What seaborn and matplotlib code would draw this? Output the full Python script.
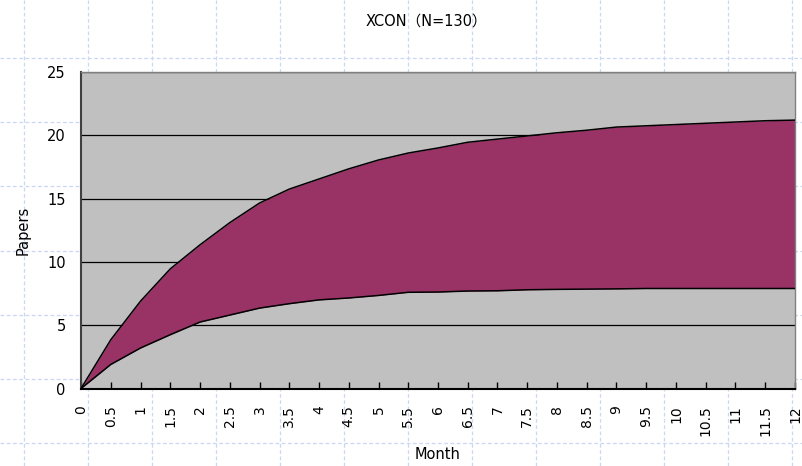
import numpy as np
import pandas as pd
import matplotlib
matplotlib.use("Agg")
import matplotlib.pyplot as plt
import seaborn as sns

# Values
months = [0, 0.5, 1, 1.5, 2, 2.5, 3, 3.5, 4, 4.5, 5, 5.5, 6, 6.5, 7, 7.5,
          8, 8.5, 9, 9.5, 10, 10.5, 11, 11.5, 12]
upper = [0, 3.85, 6.9, 9.45, 11.35, 13.1, 14.65, 15.75, 16.55, 17.35, 18.05,
         18.6, 19.0, 19.45, 19.7, 19.95, 20.2, 20.4, 20.65, 20.75, 20.85,
         20.95, 21.05, 21.15, 21.2]
lower = [0, 1.9, 3.2, 4.25, 5.25, 5.8, 6.35, 6.7, 7.0, 7.15, 7.35, 7.6, 7.62,
         7.7, 7.72, 7.8, 7.83, 7.85, 7.87, 7.9, 7.9, 7.9, 7.9, 7.9, 7.9]
y_ticks = [0, 5, 10, 15, 20, 25]
title = "XCON（N=130）"

df = pd.DataFrame({"Month": months * 2,
                   "Papers": upper + lower,
                   "Bound": ["upper"] * len(months) + ["lower"] * len(months)})

sns.set_theme(style="white")
plt.rcParams['font.family'] = ['DejaVu Sans', 'Noto Sans CJK JP']
plt.rcParams['text.color'] = 'black'
plt.rcParams['axes.labelcolor'] = 'black'
plt.rcParams['xtick.labelcolor'] = 'black'
plt.rcParams['ytick.labelcolor'] = 'black'

fig = plt.figure(figsize=(8.03, 4.66), dpi=100)
fig.patch.set_facecolor('white')

# page background with the light dashed grid
bg = fig.add_axes([0, 0, 1, 1], zorder=-1)
bg.set_xlim(0, 803)
bg.set_ylim(466, 0)
bg.set_xticks(np.arange(24, 803, 64))
bg.set_yticks(np.arange(58, 466, 64.2))
bg.grid(True, color='#CCD6F5', linestyle=(0, (3, 2)), linewidth=0.9)
bg.tick_params(length=0, labelbottom=False, labelleft=False)
for s in bg.spines.values():
    s.set_visible(False)

ax = fig.add_axes([0.1009, 0.1663, 0.8891, 0.6792])
ax.set_facecolor('#C0C0C0')

ax.fill_between(months, lower, upper, color='#993366', linewidth=0, zorder=2)
sns.lineplot(data=df, x="Month", y="Papers", units="Bound", estimator=None,
             color='black', linewidth=1.1, ax=ax, zorder=3)

ax.set_xlim(0, 12)
ax.set_ylim(0, 25)
ax.set_xticks(months)
ax.set_xticklabels([f"{m:g}" for m in months], rotation=90)
ax.set_yticks(y_ticks)
ax.yaxis.grid(True, color='black', linewidth=0.9)
ax.set_axisbelow(True)
ax.tick_params(axis='x', direction='in', length=5, width=1, color='black',
               pad=12, labelsize=10, bottom=True)
ax.tick_params(axis='y', length=0, pad=11, labelsize=10.5)

ax.spines['left'].set_color('#404040')
ax.spines['left'].set_linewidth(1.5)
ax.spines['bottom'].set_color('black')
ax.spines['bottom'].set_linewidth(1.5)
for s in ['top', 'right']:
    ax.spines[s].set_color('#808080')
    ax.spines[s].set_linewidth(1)

ax.set_xlabel("Month", fontsize=10.5, labelpad=8)
ax.set_ylabel("Papers", fontsize=10.5, labelpad=12)
fig.text(0.531, 0.955, title, ha='center', va='center', fontsize=10.5)

fig.savefig("out.png", dpi=100)
